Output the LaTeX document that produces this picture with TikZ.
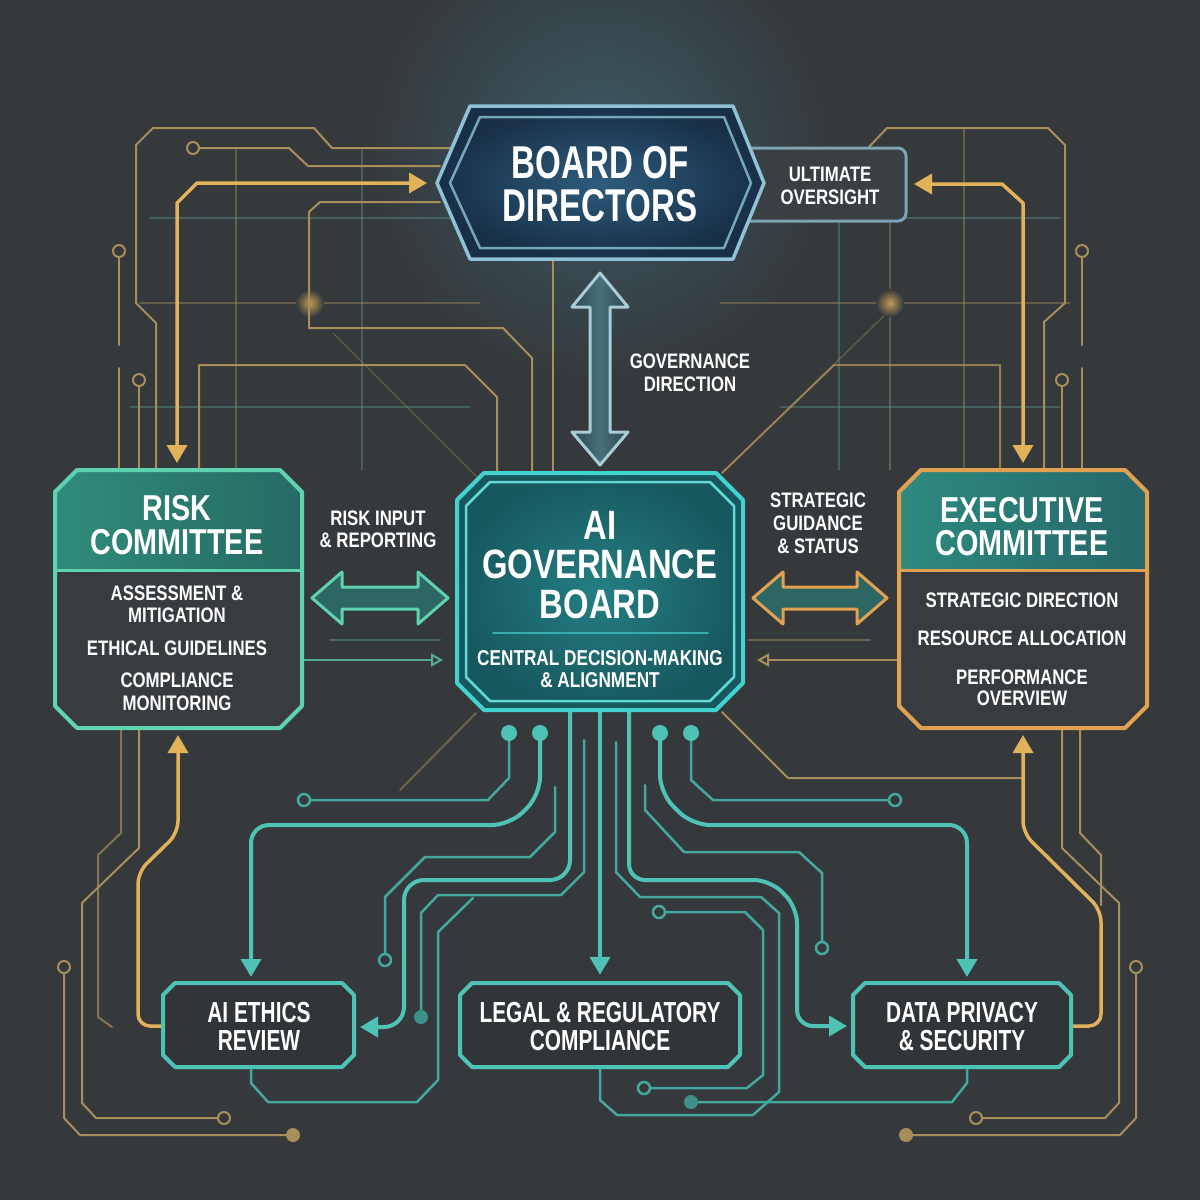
\documentclass[tikz,border=0pt]{standalone}
\usepackage{fontspec}
\setmainfont{Liberation Sans}
\newfontfamily\fa{Liberation Sans}[FakeStretch=0.8]
\newfontfamily\fb{Liberation Sans}[FakeStretch=0.72]
\usetikzlibrary{arrows.meta}
\definecolor{bg}{HTML}{35393C}
\definecolor{gold}{HTML}{A88E5A}
\definecolor{goldb}{HTML}{E2B25A}
\definecolor{tealk}{HTML}{4EC3B5}
\definecolor{tealn}{HTML}{44A89D}
\definecolor{mint}{HTML}{5ED3AE}
\definecolor{cyanb}{HTML}{44D2D0}
\definecolor{orng}{HTML}{E2A150}
\definecolor{steel}{HTML}{8FC2D6}
\definecolor{bodin}{HTML}{2D5C7C}
\definecolor{bodout}{HTML}{182F47}
\definecolor{aiin}{HTML}{247F83}
\definecolor{aiout}{HTML}{17585F}
\definecolor{hdrA}{HTML}{2F8C7A}
\definecolor{hdrB}{HTML}{266A63}
\definecolor{exA}{HTML}{2D8A80}
\definecolor{exB}{HTML}{26676A}
\definecolor{bodyc}{HTML}{383C3F}
\definecolor{ultfill}{HTML}{3A3F43}
\definecolor{ultb}{HTML}{7EA3B3}
\definecolor{glow}{HTML}{3B5A63}
\definecolor{gridt}{HTML}{5A9C95}
\definecolor{gridg}{HTML}{9C8A5E}
\definecolor{govA}{HTML}{2B4751}
\definecolor{govB}{HTML}{48707C}
\definecolor{govb}{HTML}{A9CCD8}
\definecolor{rarr}{HTML}{2D6663}
\definecolor{bbox}{HTML}{313538}
\definecolor{tdot}{HTML}{3D9189}
\newcommand\fsz[2]{\fontsize{#1}{#2}\selectfont}
\tikzset{
  oct/.style n args={5}{insert path={({#1+#5},#2) -- ({#3-#5},#2) -- (#3,{#2+#5}) -- (#3,{#4-#5}) -- ({#3-#5},#4) -- ({#1+#5},#4) -- (#1,{#4-#5}) -- (#1,{#2+#5}) -- cycle}},
  gtr/.style={draw=gold, line width=2pt},
  gfaint/.style={draw=gridg, line width=1.3pt, opacity=.45},
  tfaint/.style={draw=gridt, line width=1.3pt, opacity=.4},
  garr/.style={draw=goldb, line width=3.5pt},
  ttk/.style={draw=tealk, line width=4pt},
  ttn/.style={draw=tealn, line width=2.5pt},
  atip/.style={-{Triangle[length=18pt,width=20pt]}},
  btip/.style={{Triangle[length=18pt,width=20pt]}-{Triangle[length=18pt,width=20pt]}},
  otip/.style={-{Triangle[open,length=12pt,width=13pt]}},
  txt/.style={text=white, align=center, inner sep=0pt, text depth=0pt},
  frame/.style={inner sep=0pt, draw=none}
}
\begin{document}
\begin{tikzpicture}[x=1pt,y=-1pt,line join=round,line cap=round]
\useasboundingbox (0,0) rectangle (1200,1200);
\fill[bg] (0,0) rectangle (1200,1200);
\shade[inner color=glow, outer color=bg] (600,150) circle (230pt);

% invisible frames
\node[frame, minimum width=286, minimum height=237] (aigbF) at (600,591.5) {};
\node[frame, minimum width=247, minimum height=258] (riskF) at (178.5,599) {};
\node[frame, minimum width=248, minimum height=258] (execF) at (1023,599) {};
\node[frame, minimum width=191, minimum height=84] (ethicsF) at (258.5,1025) {};
\node[frame, minimum width=280, minimum height=84] (legalF) at (600,1025) {};
\node[frame, minimum width=218, minimum height=84] (privacyF) at (962,1025) {};

% faint grid
\draw[gfaint] (236,150) -- (236,470);
\draw[tfaint] (362,150) -- (362,470);
\draw[tfaint] (150,218) -- (450,218);
\draw[gfaint] (140,303) -- (480,303);
\draw[tfaint] (130,407) -- (470,407);
\draw[gfaint] (333,333) -- (478,478);
\draw[tfaint] (839,223) -- (839,470);
\draw[gfaint] (890,223) -- (890,470);
\draw[gfaint] (964,128) -- (964,470);
\draw[tfaint] (905,218) -- (1060,218);
\draw[gfaint] (720,303) -- (1070,303);
\draw[tfaint] (780,407) -- (1060,407);
\draw[gfaint] (887,313) -- (722,473);
\shade[inner color=goldb!80!bg, outer color=bg] (310,303) circle (14pt);
\shade[inner color=goldb!80!bg, outer color=bg] (890,303) circle (14pt);

% gold traces top-left
\draw[gtr] (450,148) -- (332,148) -- (314,128) -- (153,128) -- (136,145) -- (136,303) -- (156,323) -- (156,470);
\draw[gtr] (199,148) -- (289,148) -- (308,166) -- (440,166);
\draw[gtr, fill=bg] (193,148) circle (6pt);
\draw[gtr] (440,202) -- (320,202) -- (309,212) -- (309,328) -- (503,328) -- (532,358) -- (532,473);
\draw[gtr] (199,470) -- (199,365) -- (465,365) -- (497,397) -- (497,473);
\draw[gtr] (119,257) -- (119,345);
\draw[gtr] (119,368) -- (119,470);
\draw[gtr, fill=bg] (119,251) circle (6pt);
\draw[gtr] (139,386) -- (139,470);
\draw[gtr, fill=bg] (139,380) circle (6pt);
\draw[gtr] (553,259) -- (553,473);
% gold traces top-right
\draw[gtr] (868,148) -- (887,128) -- (1048,128) -- (1065,145) -- (1065,303) -- (1044,322) -- (1044,470);
\draw[gtr] (1082,257) -- (1082,345);
\draw[gtr] (1082,368) -- (1082,470);
\draw[gtr, fill=bg] (1082,251) circle (6pt);
\draw[gtr] (1062,386) -- (1062,470);
\draw[gtr, fill=bg] (1062,380) circle (6pt);
\draw[gtr, opacity=.8] (1000,470) -- (1000,365) -- (834,365) -- (722,473);
% bright gold arrows top
\draw[garr, btip] (177,463) -- (177,203) -- (197,183) -- (427,183);
\draw[garr, btip] (914,184) -- (1002,184) -- (1023,203) -- (1023,463);

% gold traces bottom
\draw[gtr, opacity=.7] (121,728) -- (121,833) -- (98,855) -- (98,1017) -- (112,1027);
\draw[gtr] (139,728) -- (139,848) -- (82,903) -- (82,1103) -- (96,1118) -- (218,1118);
\draw[gtr, fill=bg] (224,1118) circle (6pt);
\draw[gtr] (64,973) -- (64,1118) -- (80,1135) -- (293,1135);
\draw[gtr, fill=bg] (64,967) circle (6pt);
\fill[gold] (293,1135) circle (7pt);
\draw[gtr, opacity=.5] (476,713) -- (400,790);
\draw[gtr] (722,712) -- (788,778) -- (1023,778);
\draw[gtr] (1062,728) -- (1062,848) -- (1119,903) -- (1119,1103) -- (1105,1118) -- (982,1118);
\draw[gtr, fill=bg] (976,1118) circle (6pt);
\draw[gtr] (1080,728) -- (1080,833) -- (1101,855) -- (1101,905);
\draw[gtr] (1136,973) -- (1136,1118) -- (1120,1135) -- (906,1135);
\draw[gtr, fill=bg] (1136,967) circle (6pt);
\fill[gold] (906,1135) circle (7pt);
\draw[garr, atip, rounded corners=12pt] (ethicsF.west) ++(0,1) -- (138,1026) -- (138,872) -- (178,833) -- (178,735);
\draw[garr, atip, rounded corners=12pt] (privacyF.east) ++(0,1) -- (1101,1026) -- (1101,910) -- (1023,833) -- (1023,735);

% teal traces bottom-left
\draw[ttn] (509,733) -- (509,778) -- (488,800) -- (310,800);
\draw[ttn, fill=bg] (304,800) circle (6pt);
\draw[ttk, atip, rounded corners=18pt] (540,733) -- (540,795) -- (510,825) -- (251,825) -- (251,977);
\draw[ttn] (555,787) -- (555,832) -- (530,857) -- (425,857) -- (385,897) -- (385,954);
\draw[ttn, fill=bg] (385,960) circle (6pt);
\draw[ttk, atip, rounded corners=20pt] (570,710) -- (570,880) -- (404,880) -- (404,1027) -- (360,1027);
\draw[ttn] (584,740) -- (584,872) -- (561,895) -- (438,895) -- (421,913) -- (421,1012);
\fill[tdot] (421,1017) circle (7pt);
\draw[ttn] (473,898) -- (438,932) -- (438,1080) -- (417,1102) -- (268,1102) -- (251,1083) -- (251,1067);
\fill[tealk] (509,733) circle (8pt);
\fill[tealk] (540,733) circle (8pt);
% center arrow
\draw[ttk, atip, shorten >=8pt] (aigbF.south) -- (legalF.north);
% teal traces bottom-right
\draw[ttn] (691,733) -- (691,780) -- (713,800) -- (889,800);
\draw[ttn, fill=bg] (895,800) circle (6pt);
\draw[ttk, atip, rounded corners=18pt] (660,733) -- (660,793) -- (692,825) -- (967,825) -- (967,977);
\draw[ttn] (645,785) -- (645,810) -- (684,852) -- (799,852) -- (822,873) -- (822,942);
\draw[ttn, fill=bg] (822,948) circle (6pt);
\draw[ttk, atip, rounded corners=16pt] (629,710) -- (629,880) -- (770,880) -- (797,907) -- (797,1026) -- (847,1026);
\draw[ttn] (616,742) -- (616,872) -- (640,897) -- (761,897) -- (779,913) -- (779,1092) -- (753,1115) -- (617,1115) -- (600,1100) -- (600,1067);
\draw[ttn] (665,912) -- (745,912) -- (763,930) -- (763,1075) -- (747,1088) -- (650,1088);
\draw[ttn, fill=bg] (659,912) circle (6pt);
\draw[ttn, fill=bg] (644,1088) circle (6pt);
\draw[ttn] (691,1102) -- (952,1102) -- (967,1083) -- (967,1067);
\fill[tdot] (691,1102) circle (7pt);
\fill[tealk] (660,733) circle (8pt);
\fill[tealk] (691,733) circle (8pt);

% side links
\draw[draw=gridt, line width=2pt, opacity=.5] (330,640) -- (440,640);
\draw[draw=mint!75!bg, line width=2pt, otip] (riskF.east |- 0,660) -- (443,660);
\draw[draw=gridg, line width=2pt, opacity=.5] (748,640) -- (870,640);
\draw[draw=gold, line width=2pt, otip] (execF.west |- 0,660) -- (757,660);

% double arrows
\draw[line width=3pt, draw=mint, fill=rarr] (312,598) -- (342,572) -- (342,587) -- (418,587) -- (418,572) -- (448,598) -- (418,624) -- (418,609) -- (342,609) -- (342,624) -- cycle;
\draw[line width=3pt, draw=orng, fill=rarr] (753,598) -- (783,572) -- (783,587) -- (857,587) -- (857,572) -- (887,598) -- (857,624) -- (857,609) -- (783,609) -- (783,624) -- cycle;
\draw[line width=3pt, draw=govb, left color=govA, right color=govA, middle color=govB] (600,273) -- (628,307) -- (610,307) -- (610,432) -- (628,432) -- (600,465) -- (572,432) -- (590,432) -- (590,307) -- (572,307) -- cycle;

% Ultimate oversight box
\draw[line width=3pt, draw=ultb, fill=ultfill, rounded corners=8pt] (735,148) rectangle (906,221);
% Board of directors
\shade[inner color=bodin, outer color=bodout] (437,183) -- (470,106) -- (733,106) -- (764,183) -- (733,259) -- (470,259) -- cycle;
\draw[line width=3.5pt, draw=steel] (437,183) -- (470,106) -- (733,106) -- (764,183) -- (733,259) -- (470,259) -- cycle;
\draw[line width=2.5pt, draw=steel!80!bodout] (450,183) -- (480,117) -- (724,117) -- (751,183) -- (724,248) -- (480,248) -- cycle;

% AI governance board
\shade[inner color=aiin, outer color=aiout, oct={457}{473}{743}{710}{27}];
\draw[line width=4pt, draw=cyanb, oct={457}{473}{743}{710}{27}];
\draw[line width=2.5pt, draw=cyanb!85!white, oct={466}{482}{734}{701}{24}];
\draw[line width=2pt, draw=cyanb!70!aiout] (493,633) -- (708,633);

% Risk committee
\begin{scope}
\clip[oct={55}{470}{302}{728}{22}];
\fill[bodyc] (55,470) rectangle (302,728);
\shade[left color=hdrA, right color=hdrB] (55,470) rectangle (302,570);
\end{scope}
\draw[line width=4pt, draw=mint, oct={55}{470}{302}{728}{22}];
\draw[line width=3pt, draw=mint] (55,570) -- (302,570);

% Executive committee
\begin{scope}
\clip[oct={899}{470}{1147}{728}{22}];
\fill[bodyc] (899,470) rectangle (1147,728);
\shade[left color=exA, right color=exB] (899,470) rectangle (1147,570);
\end{scope}
\draw[line width=4pt, draw=orng, oct={899}{470}{1147}{728}{22}];
\draw[line width=3pt, draw=orng] (899,570) -- (1147,570);

% bottom boxes
\draw[line width=4pt, draw=tealk, fill=bbox, oct={163}{983}{354}{1067}{12}];
\draw[line width=4pt, draw=tealk, fill=bbox, oct={460}{983}{740}{1067}{12}];
\draw[line width=4pt, draw=tealk, fill=bbox, oct={853}{983}{1071}{1067}{12}];

% texts
\node[txt, font=\fb\bfseries\fsz{46}{43}] (bod) at (600,184) {BOARD OF\\DIRECTORS};
\node[txt, font=\fa\bfseries\fsz{21}{23}] (ult) at (830,186) {ULTIMATE\\OVERSIGHT};
\node[txt, font=\fa\bfseries\fsz{21}{23}] (govdir) at (690,373) {GOVERNANCE\\DIRECTION};
\node[txt, font=\fa\bfseries\fsz{36}{34}] (risk) at (177,525) {RISK\\COMMITTEE};
\node[txt, font=\fa\bfseries\fsz{21}{22}] (riskA) at (177,604) {ASSESSMENT \&\\MITIGATION};
\node[txt, font=\fa\bfseries\fsz{21}{22}] (riskB) at (177,648) {ETHICAL GUIDELINES};
\node[txt, font=\fa\bfseries\fsz{21}{23}] (riskC) at (177,691.5) {COMPLIANCE\\MONITORING};
\node[txt, font=\fa\bfseries\fsz{21}{22}] (riskin) at (378,529) {RISK INPUT\\\& REPORTING};
\node[txt, font=\fa\bfseries\fsz{41}{39.5}] (aigb) at (600,564.5) {AI\\GOVERNANCE\\BOARD};
\node[txt, font=\fa\bfseries\fsz{21.5}{22}] (aigbsub) at (600,669) {CENTRAL DECISION-MAKING\\\& ALIGNMENT};
\node[txt, font=\fa\bfseries\fsz{21}{23}] (strat) at (818,523) {STRATEGIC\\GUIDANCE\\\& STATUS};
\node[txt, font=\fa\bfseries\fsz{36}{33}] (exec) at (1022,526.5) {EXECUTIVE\\COMMITTEE};
\node[txt, font=\fa\bfseries\fsz{21}{22}] (execA) at (1022,600) {STRATEGIC DIRECTION};
\node[txt, font=\fa\bfseries\fsz{21}{22}] (execB) at (1022,638) {RESOURCE ALLOCATION};
\node[txt, font=\fa\bfseries\fsz{21}{21}] (execC) at (1022,687.5) {PERFORMANCE\\OVERVIEW};
\node[txt, font=\fb\bfseries\fsz{29}{28}] (ethics) at (259,1026) {AI ETHICS\\REVIEW};
\node[txt, font=\fb\bfseries\fsz{29}{28}] (legal) at (600,1026) {LEGAL \& REGULATORY\\COMPLIANCE};
\node[txt, font=\fb\bfseries\fsz{29}{28}] (privacy) at (962,1026) {DATA PRIVACY\\\& SECURITY};
\end{tikzpicture}
\end{document}
